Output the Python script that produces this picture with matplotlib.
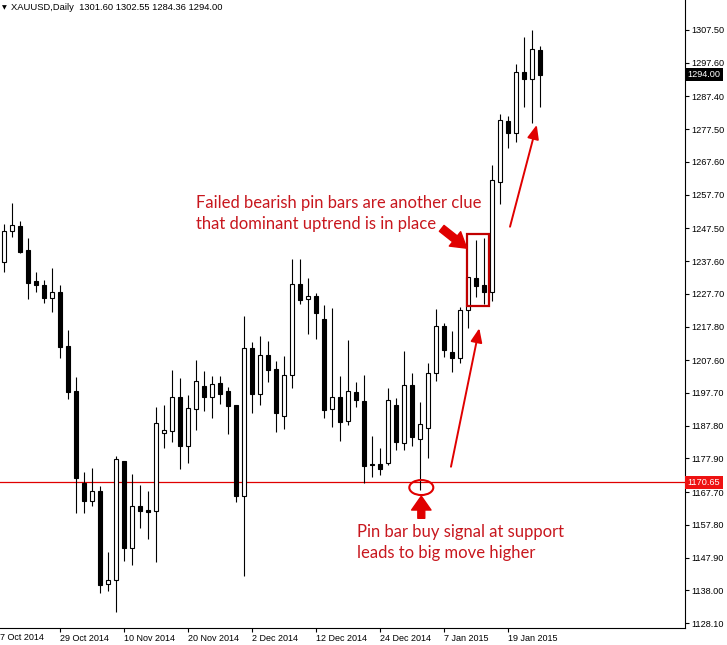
import matplotlib
matplotlib.use("Agg")
import matplotlib.pyplot as plt
import matplotlib.transforms as mtransforms
from matplotlib.patches import Rectangle, Ellipse, FancyArrowPatch

# ---------------- data ----------------
symbol = "XAUUSD,Daily"

opens = [1237.4, 1246.6, 1248.1, 1240.9, 1231.6, 1230.3, 1226.3, 1228.2, 1212.0, 1198.3,
         1170.4, 1165.1, 1168.0, 1139.8, 1141.2, 1177.1, 1150.9, 1163.5, 1162.2, 1162.1,
         1185.5, 1186.3, 1196.5, 1181.8, 1192.9, 1199.8, 1196.4, 1200.7, 1198.3, 1194.1,
         1166.6, 1211.2, 1197.5, 1209.1, 1205.0, 1190.6, 1203.0, 1230.7, 1226.0, 1226.9,
         1220.0, 1192.8, 1196.5, 1189.1, 1198.0, 1195.3, 1176.1, 1176.3, 1176.4, 1194.1,
         1182.5, 1200.1, 1183.7, 1187.0, 1203.7, 1217.9, 1210.2, 1208.4, 1222.8, 1232.6,
         1230.4, 1228.2, 1261.6, 1280.0, 1276.3, 1294.7, 1292.8, 1301.60]

highs = [1248.8, 1255.3, 1249.7, 1244.5, 1234.2, 1231.9, 1235.5, 1230.3, 1216.7, 1202.4,
         1173.7, 1175.0, 1169.6, 1149.7, 1178.6, 1177.1, 1173.2, 1169.9, 1168.0, 1193.5,
         1194.1, 1204.6, 1202.2, 1197.1, 1207.7, 1204.4, 1202.8, 1202.8, 1199.6, 1194.1,
         1221.0, 1213.1, 1214.9, 1213.4, 1207.4, 1208.9, 1238.2, 1238.2, 1232.5, 1228.0,
         1224.3, 1223.5, 1202.8, 1213.7, 1201.0, 1203.0, 1184.8, 1181.0, 1199.3, 1196.3,
         1210.5, 1203.7, 1194.9, 1206.9, 1223.0, 1218.8, 1216.4, 1223.8, 1232.7, 1244.0,
         1244.7, 1266.7, 1282.0, 1281.5, 1297.1, 1305.3, 1307.5, 1302.55]

lows = [1234.4, 1245.0, 1240.1, 1226.0, 1228.3, 1225.0, 1222.3, 1208.2, 1195.8, 1161.3,
        1161.5, 1163.6, 1137.3, 1137.9, 1131.5, 1147.0, 1145.8, 1156.9, 1153.5, 1146.7,
        1181.1, 1183.0, 1174.7, 1176.6, 1186.5, 1192.2, 1190.2, 1194.4, 1185.4, 1164.8,
        1142.4, 1191.6, 1194.1, 1201.1, 1186.0, 1186.8, 1199.1, 1224.5, 1215.6, 1214.1,
        1190.2, 1187.3, 1183.3, 1188.0, 1193.4, 1170.4, 1172.4, 1172.8, 1175.9, 1180.4,
        1180.4, 1181.7, 1168.3, 1177.9, 1201.4, 1208.5, 1204.1, 1206.7, 1217.4, 1226.8,
        1224.6, 1225.5, 1254.8, 1271.9, 1273.7, 1284.3, 1279.5, 1284.36]

closes = [1246.7, 1248.4, 1240.3, 1231.1, 1230.5, 1226.3, 1228.2, 1211.7, 1198.1, 1172.1,
          1165.1, 1168.0, 1139.6, 1141.1, 1177.7, 1150.9, 1163.5, 1162.1, 1161.8, 1188.5,
          1186.5, 1196.4, 1181.8, 1193.1, 1201.2, 1196.6, 1200.3, 1197.5, 1193.9, 1166.6,
          1211.2, 1197.5, 1209.1, 1204.7, 1191.7, 1203.0, 1230.7, 1225.9, 1226.9, 1222.0,
          1192.6, 1196.4, 1189.0, 1198.4, 1195.5, 1175.7, 1176.0, 1174.6, 1195.5, 1182.8,
          1200.1, 1184.3, 1188.3, 1203.9, 1217.9, 1210.7, 1208.4, 1222.7, 1232.7, 1230.2,
          1228.1, 1262.0, 1280.3, 1276.4, 1294.7, 1292.8, 1301.7, 1294.00]

date_labels = ["17 Oct 2014", "29 Oct 2014", "10 Nov 2014", "20 Nov 2014", "2 Dec 2014",
               "12 Dec 2014", "24 Dec 2014", "7 Jan 2015", "19 Jan 2015"]

price_ticks = [1307.50, 1297.60, 1287.40, 1277.50, 1267.60, 1257.70, 1247.50, 1237.60,
               1227.70, 1217.80, 1207.60, 1197.70, 1187.80, 1177.90, 1167.70, 1157.80,
               1147.90, 1138.00, 1128.10]

support_level = 1170.65

note_top = "Failed bearish pin bars are another clue\nthat dominant uptrend is in place"
note_bottom = "Pin bar buy signal at support\nleads to big move higher"

# ---------------- layout ----------------
W, H = 727, 645
RED = "#c8171e"
BOXRED = "#c00000"
LINERED = "#e00000"
AXFONT = "Liberation Sans"

fig = plt.figure(figsize=(W / 100, H / 100), dpi=100)
ax = fig.add_axes([0, (H - 628) / H, 685 / W, 628 / H])

bar_px = 8.0
first_px = 4.5
ax.set_xlim(-first_px / bar_px, (685 - first_px) / bar_px)
px_per_usd = 3.306
ax.set_ylim(1307.5 - (628 - 30) / px_per_usd, 1307.5 + 30 / px_per_usd)

n = len(opens)
xs = list(range(n))

# wicks
ax.vlines(xs, lows, highs, color="black", lw=0.8, zorder=2)
# bodies
bottoms = [min(o, c) for o, c in zip(opens, closes)]
heights = [max(abs(c - o), 0.12) for o, c in zip(opens, closes)]
colors = ["white" if c > o else "black" for o, c in zip(opens, closes)]
ax.bar(xs, heights, bottom=bottoms, width=0.5, color=colors, edgecolor="black",
       linewidth=0.8, zorder=3)

# axes styling
for s in ("top", "left"):
    ax.spines[s].set_visible(False)
for s in ("right", "bottom"):
    ax.spines[s].set_linewidth(0.8)
    ax.spines[s].set_color("black")

ax.yaxis.tick_right()
ax.set_yticks(price_ticks)
ax.set_yticklabels([f"{v:.2f}" for v in price_ticks], fontsize=6.6, family=AXFONT)
ax.tick_params(axis="y", length=3, width=0.8, pad=1.6, direction="out")

tick_pos = list(range(-1, n, 8))[:len(date_labels)]
ax.set_xticks(tick_pos[1:])
ax.set_xticklabels(date_labels[1:], fontsize=6.5, family=AXFONT, ha="left")
ax.tick_params(axis="x", length=3, width=0.8, pad=1.5, direction="out")
ax.set_xlim(-first_px / bar_px, (685 - first_px) / bar_px)
# first date label lies partly left of the chart edge (cut off as in the reference)
xlab_trans = mtransforms.blended_transform_factory(ax.transData, ax.transAxes)
ax.text(tick_pos[0] - 0.15, -0.0075, date_labels[0], transform=xlab_trans, fontsize=6.5,
        family=AXFONT, ha="left", va="top", clip_on=False)

# support line and price labels
ax.axhline(support_level, color=LINERED, lw=0.9, zorder=1)
trans = mtransforms.blended_transform_factory(ax.transAxes, ax.transData)
ax.text(1.004, support_level, f"{support_level:.2f}", transform=trans, va="center", ha="left",
        color="white", fontsize=6.6, family=AXFONT, zorder=10, clip_on=False,
        bbox=dict(boxstyle="square,pad=0.25", fc="#ee1111", ec="none"))
ax.text(1.004, closes[-1], f"{closes[-1]:.2f}", transform=trans, va="center", ha="left",
        color="white", fontsize=6.6, family=AXFONT, zorder=10, clip_on=False,
        bbox=dict(boxstyle="square,pad=0.25", fc="black", ec="none"))

# header
fig.text(2 / W, 1 - 7.5 / H, "\u25bc", fontsize=4.5, va="center", ha="left", color="black")
fig.text(11 / W, 1 - 7.5 / H,
         f"{symbol}  {opens[-1]:.2f} {highs[-1]:.2f} {lows[-1]:.2f} {closes[-1]:.2f}",
         fontsize=6.75, family=AXFONT, va="center", ha="left", color="black")

# annotations
ax.text(23.95, 1252.1, note_top, color=RED, fontsize=11.95, family="Lato",
        va="center", ha="left", linespacing=1.4, zorder=6)
ax.text(44.1, 1152.5, note_bottom, color=RED, fontsize=11.95, family="Lato",
        va="center", ha="left", linespacing=1.4, zorder=6)

ax.add_patch(Rectangle((57.78, 1224.0), 2.82, 21.7, fill=False, ec=BOXRED, lw=1.6, zorder=5))
ax.add_patch(Ellipse((52.1, 1169.1), 3.0, 4.54, fill=False, ec=LINERED, lw=1.5, zorder=5))

ax.add_patch(FancyArrowPatch((54.65, 1247.5), (57.78, 1241.5),
                             arrowstyle="simple,head_length=0.9,head_width=1.1,tail_width=0.45",
                             mutation_scale=12, color=LINERED, shrinkA=0, shrinkB=0, zorder=6))
ax.add_patch(FancyArrowPatch((52.1, 1159.8), (52.1, 1166.5),
                             arrowstyle="simple,head_length=1.0,head_width=1.4,tail_width=0.5",
                             mutation_scale=10, color=LINERED, shrinkA=0, shrinkB=0, zorder=6))
for (sx, sy), (tx, ty) in [((55.81, 1175.4), (59.35, 1217.3)),
                           ((63.19, 1248.0), (66.53, 1278.8))]:
    ax.add_patch(FancyArrowPatch((sx, sy), (tx, ty),
                                 arrowstyle="-|>,head_length=0.6,head_width=0.25",
                                 mutation_scale=14, color=LINERED, lw=1.4,
                                 shrinkA=0, shrinkB=0, zorder=6))

fig.savefig("out.png", dpi=100)
